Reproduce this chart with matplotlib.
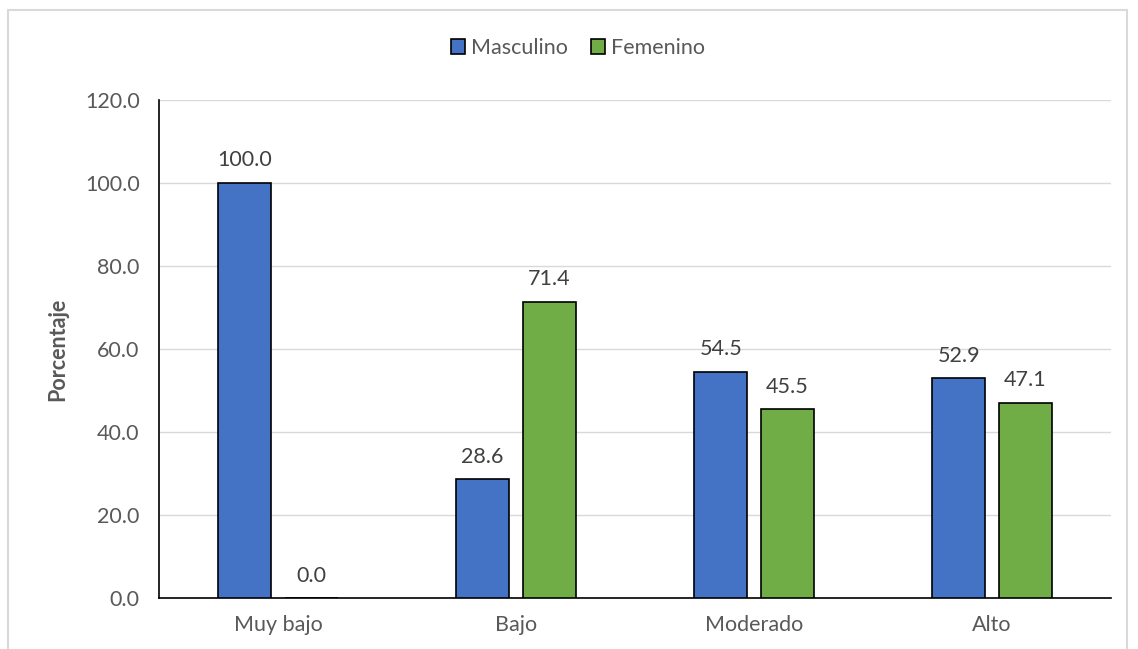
import numpy as np
import matplotlib.pyplot as plt
from matplotlib.patches import Rectangle

# Distribución por nivel y sexo (%)
niveles = ['Muy bajo', 'Bajo', 'Moderado', 'Alto']
masculino = [100.0, 28.6, 54.5, 52.9]
femenino = [0.0, 71.4, 45.5, 47.1]
y_ticks = [0, 20, 40, 60, 80, 100, 120]

plt.rcParams['font.family'] = ['Lato', 'DejaVu Sans']
texto = '#595959'
tam = 15.5

fig = plt.figure(figsize=(11.38, 6.49), dpi=100)
# marco exterior del gráfico
fig.patches.append(Rectangle((8 / 1138, -0.05), 1119 / 1138, 1.05 - 10 / 649,
                             transform=fig.transFigure, fill=False,
                             edgecolor='#D9D9D9', linewidth=1.5))

ax = fig.add_axes([159 / 1138, 1 - 598 / 649, 952 / 1138, 498 / 649])

x = np.arange(len(niveles))
ancho = 0.222
desp = 0.14
b1 = ax.bar(x - desp, masculino, ancho, color='#4472C4', edgecolor='black',
            linewidth=1.2, label='Masculino', zorder=3)
b2 = ax.bar(x + desp, femenino, ancho, color='#70AD47', edgecolor='black',
            linewidth=1.2, label='Femenino', zorder=3)

for barras in (b1, b2):
    ax.bar_label(barras, fmt='%.1f', padding=9, fontsize=tam, color='#404040')

ax.set_xlim(-0.5, len(niveles) - 0.5)
ax.set_ylim(0, 120)
ax.set_yticks(y_ticks)
ax.set_yticklabels([f'{v:.1f}' for v in y_ticks])
ax.set_xticks(x)
ax.set_xticklabels(niveles)
ax.tick_params(axis='both', length=0, labelsize=tam, labelcolor=texto)
ax.tick_params(axis='y', pad=14)
ax.tick_params(axis='x', pad=12)
ax.yaxis.grid(True, color='#D9D9D9', linewidth=1)
ax.set_axisbelow(True)

for lado in ('top', 'right'):
    ax.spines[lado].set_visible(False)
ax.spines['left'].set_color('black')
ax.spines['bottom'].set_color('black')
ax.spines['left'].set_linewidth(1.2)
ax.spines['bottom'].set_linewidth(1.2)

ax.set_ylabel('Porcentaje', fontsize=tam, fontweight='bold', color=texto, labelpad=12)

ax.legend(loc='center', bbox_to_anchor=(578 / 1138, 1 - 48 / 649),
          bbox_transform=fig.transFigure, ncol=2, frameon=False, fontsize=tam,
          labelcolor=texto, handlelength=0.65, handleheight=0.65,
          handletextpad=0.25, columnspacing=1.1)

fig.savefig('out.png', dpi=100)
